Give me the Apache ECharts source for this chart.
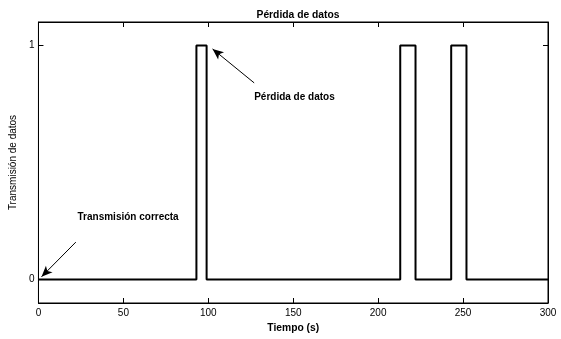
<!DOCTYPE html>
<html>
<head>
<meta charset="utf-8">
<script src="https://cdn.jsdelivr.net/npm/echarts@6/dist/echarts.min.js"></script>
<style>html,body{margin:0;padding:0;background:#fff;}#c{width:561px;height:339px;}</style>
</head>
<body>
<div id="c"></div>
<script>
// Data
var stepTimes = [0, 93, 99, 213, 222, 243, 252, 300];
var stepValues = [0, 1, 0, 1, 0, 1, 0, 0];
var yTicks = [0, 1];
var titleText = 'Pérdida de datos';
var xName = 'Tiempo (s)';
var yName = 'Transmisión de datos';
var annotLoss = {text: 'Pérdida de datos', tip: [102.5, 0.985], tail: [127, 0.84], label: [127, 0.78]};
var annotOk = {text: 'Transmisión correcta', tip: [1.8, 0.012], tail: [22, 0.16], label: [23, 0.265]};

var seriesData = stepTimes.map(function (t, i) { return [t, stepValues[i]]; });
var font = 'Liberation Sans, Arial, Helvetica, sans-serif';

var chart = echarts.init(document.getElementById('c'), null, {renderer: 'canvas'});
chart.setOption({
  animation: false,
  backgroundColor: '#fff',
  title: {
    text: titleText, left: 293, top: 5, textAlign: 'center',
    textStyle: {fontFamily: font, fontSize: 10.3, fontWeight: 'bold', color: '#000'}
  },
  grid: {left: 38, right: 13, top: 22, bottom: 36, show: true, borderColor: '#000', borderWidth: 1, backgroundColor: 'transparent'},
  xAxis: [{
    type: 'value', min: 0, max: 300, interval: 50, position: 'bottom',
    name: xName, nameLocation: 'middle', nameGap: 19,
    nameTextStyle: {fontFamily: font, fontSize: 10.3, fontWeight: 'bold', color: '#000'},
    axisLine: {show: true, onZero: false, lineStyle: {color: '#000', width: 1}},
    axisTick: {show: true, inside: true, length: 5, lineStyle: {color: '#000'}},
    axisLabel: {show: true, inside: false, margin: 5, fontFamily: font, fontSize: 10, color: '#000'},
    splitLine: {show: false}
  }, {
    type: 'value', min: 0, max: 300, interval: 50, position: 'top',
    axisLine: {show: true, onZero: false, lineStyle: {color: '#000', width: 1}},
    axisTick: {show: true, inside: true, length: 5, lineStyle: {color: '#000'}},
    axisLabel: {show: false},
    splitLine: {show: false}
  }],
  yAxis: [{
    type: 'value', min: -0.1, max: 1.1, position: 'left',
    name: yName, nameLocation: 'middle', nameGap: 12,
    nameTextStyle: {fontFamily: font, fontSize: 10, color: '#000'},
    axisLine: {show: true, onZero: false, lineStyle: {color: '#000', width: 1}},
    axisTick: {show: true, inside: true, length: 5, lineStyle: {color: '#000'}, customValues: yTicks},
    axisLabel: {show: true, inside: false, margin: 4, fontFamily: font, fontSize: 10, color: '#000', customValues: yTicks},
    splitLine: {show: false}
  }, {
    type: 'value', min: -0.1, max: 1.1, position: 'right',
    axisLine: {show: true, onZero: false, lineStyle: {color: '#000', width: 1}},
    axisTick: {show: true, inside: true, length: 5, lineStyle: {color: '#000'}, customValues: yTicks},
    axisLabel: {show: false},
    splitLine: {show: false}
  }],
  series: [{
    type: 'line', step: 'end', data: seriesData, showSymbol: false, symbol: 'none',
    lineStyle: {color: '#000', width: 2}, xAxisIndex: 0, yAxisIndex: 0,
    markLine: {
      silent: true, symbol: ['none', 'arrow'], symbolSize: [7, 11],
      lineStyle: {color: '#000', width: 1, type: 'solid'}, label: {show: false},
      data: [
        [{coord: annotLoss.tail}, {coord: annotLoss.tip}],
        [{coord: annotOk.tail}, {coord: annotOk.tip}]
      ]
    },
    markPoint: {
      silent: true, symbol: 'circle', symbolSize: 0,
      label: {show: true, position: 'inside', fontFamily: font, fontSize: 10, fontWeight: 'bold', color: '#000', align: 'left', verticalAlign: 'middle', formatter: '{b}'},
      data: [
        {name: annotLoss.text, coord: annotLoss.label},
        {name: annotOk.text, coord: annotOk.label}
      ]
    }
  }]
});
</script>
</body>
</html>
